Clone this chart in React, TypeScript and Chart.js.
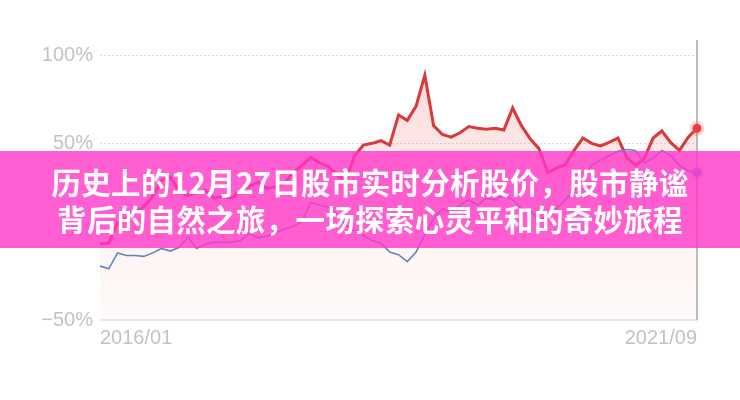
import React, { useEffect, useRef } from "react";
import { Chart, registerables } from "chart.js";

Chart.register(...registerables);

// ---- data ----
const startYear = 2016;
const startMonth = 1;
const monthCount = 69; // 2016/01 .. 2021/09
const categories: string[] = [];
for (let i = 0; i < monthCount; i++) {
  const m = startMonth - 1 + i;
  const y = startYear + Math.floor(m / 12);
  const mm = (m % 12) + 1;
  categories.push(`${y}/${mm < 10 ? "0" + mm : mm}`);
}

const redSeries = [
  -7, -6.5, 5, 7.5, 11, 14, 20, 29, 31, 23, 20.5, 22, 23.5, 19, 20, 19, 23.5,
  25.5, 28, 24.5, 25.5, 27.5, 33.5, 37.5, 42, 39, 37, 32, 29, 43, 49, 50, 51.5,
  49, 66, 63, 71, 88.5, 60, 55, 53.5, 56, 59.5, 58.5, 58, 58.5, 57.5, 70, 60,
  52.5, 47, 33.5, 36, 38, 46, 53, 50, 48.5, 50.5, 53, 42, 37.5, 41.5, 53, 57,
  50.5, 46, 53.5, 58.5,
];

const blueSeries = [
  -19.5, -21, -12, -13.5, -13.5, -14, -12, -9.5, -11, -9, -3, -9.5, -7, -6, -6,
  -6, -5, -1, -3.5, -2.5, -0.5, 1.5, 3, 5.5, 16.5, 15, 14, 9.5, 3.5, 1, -2, -5,
  -6.5, -11.5, -13, -17, -11.5, -2, 7.5, 13, 11, 15, 18, 15, 19, 18, 20.5, 18,
  13, 12, 6.5, 9, 13, 18, 23.5, 30, 37.5, 40.5, 43, 45.5, 46.5, 46, 39, 41.5,
  46, 43, 37.5, 34.5, 33.5,
];

const yTickValues = [-50, 0, 50, 100];
const yTickLabels = ["\u221250%", "0%", "50%", "100%"];

const titleLines = [
  "历史上的12月27日股市实时分析股价，股市静谧",
  "背后的自然之旅，一场探索心灵平和的奇妙旅程",
];

const cursorLine = {
  id: "cursorLine",
  beforeDatasetsDraw(chart: any) {
    const { ctx, chartArea, scales } = chart;
    const x = scales.x.getPixelForValue(categories.length - 1);
    ctx.save();
    ctx.strokeStyle = "#a8a8a8";
    ctx.lineWidth = 1.5;
    ctx.beginPath();
    ctx.moveTo(x, chartArea.top);
    ctx.lineTo(x, chartArea.bottom);
    ctx.stroke();
    ctx.restore();
  },
};

export default function App() {
  const ref = useRef<HTMLCanvasElement | null>(null);

  useEffect(() => {
    if (!ref.current) return;
    const last = categories.length - 1;
    const chart = new Chart(ref.current, {
      type: "line",
      data: {
        labels: categories,
        datasets: [
          {
            data: blueSeries,
            borderColor: "#5d87b9",
            borderWidth: 1.6,
            tension: 0,
            fill: false,
            pointRadius: (c: any) => (c.dataIndex === last ? 4.5 : 0),
            pointBackgroundColor: "#6f86e0",
            pointBorderColor: "rgba(111,134,224,0.25)",
            pointBorderWidth: 5,
          },
          {
            data: redSeries,
            borderColor: "#d8393b",
            borderWidth: 3,
            tension: 0,
            fill: "start",
            backgroundColor: (c: any) => {
              const { chart: ch } = c;
              const area = ch.chartArea;
              if (!area) return "rgba(235,80,80,0.15)";
              const g = ch.ctx.createLinearGradient(0, area.top, 0, area.bottom);
              g.addColorStop(0, "rgba(238,80,80,0.26)");
              g.addColorStop(0.45, "rgba(240,110,100,0.14)");
              g.addColorStop(1, "rgba(245,150,130,0.04)");
              return g;
            },
            pointRadius: (c: any) => (c.dataIndex === last ? 4.5 : 0),
            pointBackgroundColor: "#e8383a",
            pointBorderColor: "rgba(240,90,90,0.25)",
            pointBorderWidth: 6,
          },
        ],
      },
      options: {
        animation: false,
        responsive: false,
        maintainAspectRatio: false,
        layout: { padding: { top: 40, right: 43, left: 0, bottom: 0 } },
        plugins: {
          legend: { display: false },
          tooltip: { enabled: false },
        },
        scales: {
          x: {
            type: "category",
            offset: false,
            grid: { display: false, drawTicks: false },
            border: { display: true, color: "#e9e9e9", width: 2 },
            afterFit: (s: any) => {
              s.height = 80;
            },
            ticks: {
              autoSkip: false,
              maxRotation: 0,
              minRotation: 0,
              align: "inner",
              padding: 6,
              color: "#c2c2c2",
              font: { family: "'Liberation Sans', Arial, sans-serif", size: 20 },
              callback: (_v: any, i: number) =>
                i === 0 || i === last ? categories[i] : "",
            },
          },
          y: {
            min: -50,
            max: 108.5,
            afterFit: (s: any) => {
              s.width = 100;
            },
            afterBuildTicks: (s: any) => {
              s.ticks = yTickValues.map((v) => ({ value: v }));
            },
            grid: {
              drawTicks: false,
              color: (c: any) =>
                c.tick && c.tick.value === -50 ? "rgba(0,0,0,0)" : "#dcdcdc",
              lineWidth: 1,
            },
            border: { display: false, dash: [2, 2] },
            ticks: {
              padding: 7,
              color: "#c2c2c2",
              font: { family: "'Liberation Sans', Arial, sans-serif", size: 20 },
              callback: (v: any) => {
                const idx = yTickValues.indexOf(Number(v));
                return idx >= 0 ? yTickLabels[idx] : "";
              },
            },
          },
        },
      },
      plugins: [cursorLine],
    } as any);
    return () => chart.destroy();
  }, []);

  return (
    <div
      style={{
        position: "fixed",
        left: 0,
        top: 0,
        width: 740,
        height: 400,
        background: "#ffffff",
        overflow: "hidden",
      }}
    >
      <canvas ref={ref} width={740} height={400} style={{ display: "block" }} />
      <div
        style={{
          position: "absolute",
          left: 0,
          top: 151,
          width: 740,
          height: 97,
          background: "rgba(255,55,200,0.8)",
          display: "flex",
          flexDirection: "column",
          justifyContent: "center",
          alignItems: "center",
          color: "#ffffff",
          fontFamily: "'Noto Sans CJK SC', 'Noto Sans', sans-serif",
          fontWeight: 700,
          fontSize: 29.5,
          letterSpacing: "0.3px",
          lineHeight: "37px",
          textAlign: "center",
          whiteSpace: "nowrap",
        }}
      >
        {titleLines.map((t) => (
          <div key={t}>{t}</div>
        ))}
      </div>
    </div>
  );
}
